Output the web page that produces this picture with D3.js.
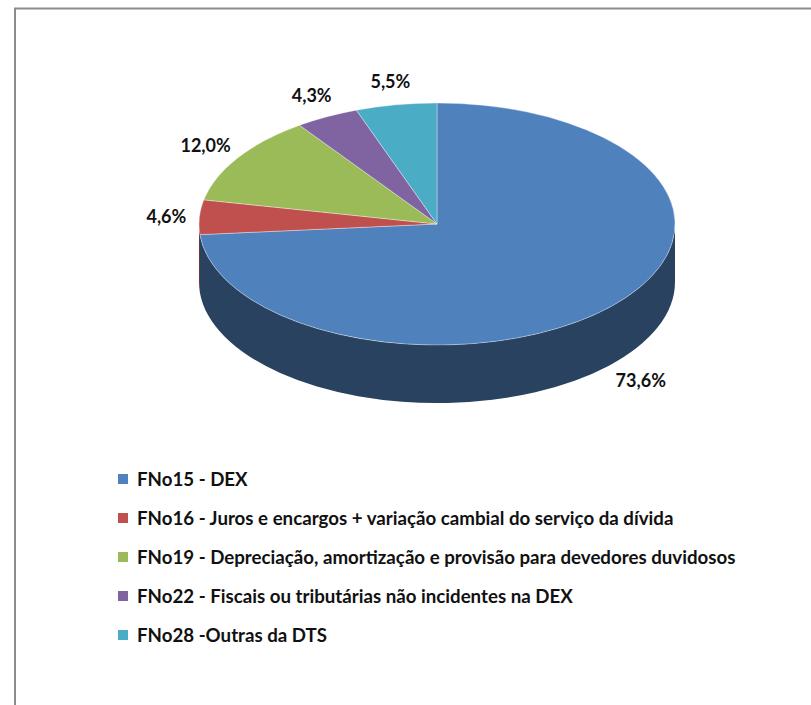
<!DOCTYPE html>
<html>
<head>
<meta charset="utf-8">
<script src="https://cdn.jsdelivr.net/npm/d3@7/dist/d3.min.js"></script>
<style>
	html, body { margin: 0; padding: 0; background: #fff; }
	svg { display: block; }
	text { font-family: Lato, "Open Sans", sans-serif; font-weight: bold; fill: #111; }
</style>
</head>
<body>
<div id="chart"></div>
<script>
// data
var categories = [
	"FNo15 - DEX",
	"FNo16 - Juros e encargos + variação cambial do serviço da dívida",
	"FNo19 - Depreciação, amortização e provisão para devedores duvidosos",
	"FNo22 - Fiscais ou tributárias não incidentes na DEX",
	"FNo28 -Outras da DTS"
];
var shares = [73.6, 4.6, 12.0, 4.3, 5.5];
var colors = ["#4f81bd", "#c0504d", "#9bbb59", "#8064a2", "#4bacc6"];

var width = 811, height = 705;

// pie geometry (flattened ellipse + wall)
var cx = 437, cy = 224,
	rx = 238, ry = 121,
	depth = 58,
	labelGap = 13;

var svg = d3.select("#chart").append("svg")
	.attr("width", width)
	.attr("height", height);

// frame
svg.append("line")
	.attr("x1", 14).attr("x2", width)
	.attr("y1", 8.5).attr("y2", 8.5)
	.attr("stroke", "#8c8c8c").attr("stroke-width", 2);
svg.append("line")
	.attr("x1", 15).attr("x2", 15)
	.attr("y1", 8).attr("y2", height)
	.attr("stroke", "#8c8c8c").attr("stroke-width", 2);

var pie = d3.pie().sort(null).startAngle(0).endAngle(2 * Math.PI);
var arcs = pie(shares);

function pt(a, dy) {
	return [cx + rx * Math.sin(a), cy - ry * Math.cos(a) + (dy || 0)];
}

function topPath(d) {
	var p0 = pt(d.startAngle), p1 = pt(d.endAngle),
		large = (d.endAngle - d.startAngle) > Math.PI ? 1 : 0;
	return "M" + cx + "," + cy + "L" + p0 + "A" + rx + "," + ry + " 0 " + large + " 1 " + p1 + "Z";
}

function sidePath(d) {
	var s0 = Math.max(d.startAngle, Math.PI / 2),
		s1 = Math.min(d.endAngle, 3 * Math.PI / 2);
	if (s1 <= s0) return null;
	var large = (s1 - s0) > Math.PI ? 1 : 0;
	return "M" + pt(s0) + "A" + rx + "," + ry + " 0 " + large + " 1 " + pt(s1) +
		"L" + pt(s1, depth) + "A" + rx + "," + ry + " 0 " + large + " 0 " + pt(s0, depth) + "Z";
}

var g = svg.append("g");

// walls
g.selectAll("path.side")
	.data(arcs.filter(function(d) { return sidePath(d); }))
	.enter().append("path")
	.attr("class", "side")
	.attr("d", sidePath)
	.attr("fill", function(d) { return d3.color(colors[d.index]).darker(1.9); });

// top faces
g.selectAll("path.top")
	.data(arcs)
	.enter().append("path")
	.attr("class", "top")
	.attr("d", topPath)
	.attr("fill", function(d) { return colors[d.index]; })
	.attr("stroke", "rgba(255,255,255,0.45)")
	.attr("stroke-width", 0.8);

// labels
var fmt = function(v) { return v.toFixed(1).replace(".", ",") + "%"; };
var labels = svg.selectAll("text.lbl")
	.data(arcs)
	.enter().append("text")
	.attr("class", "lbl")
	.attr("font-size", 18)
	.attr("text-anchor", "middle")
	.attr("dominant-baseline", "central")
	.text(function(d) { return fmt(d.data); });

labels.each(function(d) {
	var t = d3.select(this),
		bb = this.getBBox(),
		a = (d.startAngle + d.endAngle) / 2,
		s = Math.sin(a), c = Math.cos(a),
		x = cx + (rx + labelGap) * s,
		y = cy - (ry + labelGap) * c + (c < 0 ? depth : 0);
	t.attr("x", x + s * bb.width / 2)
	 .attr("y", y - c * bb.height / 2);
});

// legend
var legend = svg.append("g").attr("transform", "translate(118,474)");
var rowH = 39;
var items = legend.selectAll("g")
	.data(categories)
	.enter().append("g")
	.attr("transform", function(d, i) { return "translate(0," + (i * rowH) + ")"; });

items.append("rect")
	.attr("width", 10).attr("height", 10)
	.attr("fill", function(d, i) { return colors[i]; });

items.append("text")
	.attr("x", 19)
	.attr("y", 5)
	.attr("font-size", 18.7)
	.attr("dominant-baseline", "central")
	.text(function(d) { return d; });
</script>
</body>
</html>
